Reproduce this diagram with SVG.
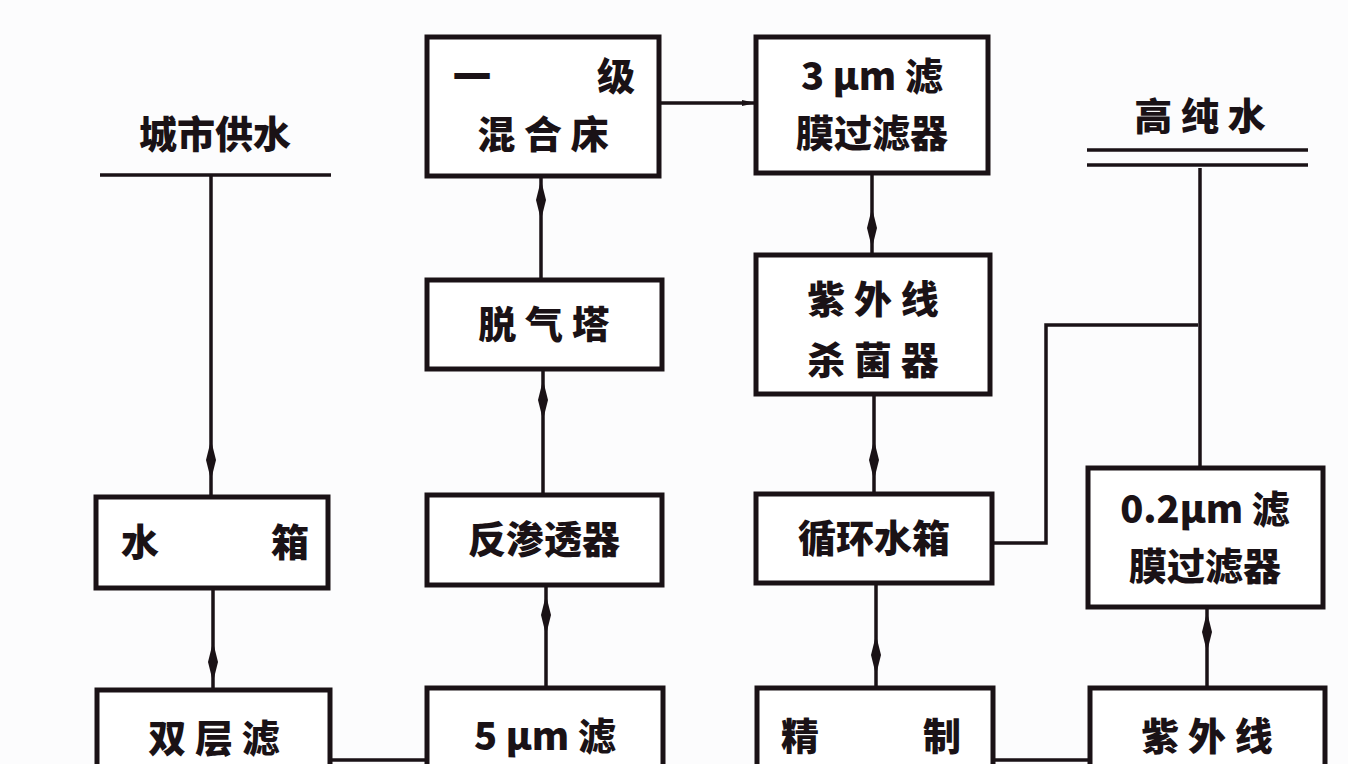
<svg xmlns="http://www.w3.org/2000/svg" width="1348" height="764" viewBox="0 0 1348 764">
<style>
.b{fill:#fff;stroke:#1a1216;stroke-width:5}
.l{fill:none;stroke:#1a1216;stroke-width:3.5}
.t{font-family:"Noto Sans CJK SC","Liberation Sans",sans-serif;font-weight:900;font-size:38px;fill:#1a1216;text-anchor:middle}
</style>
<defs>
<marker id="sp" viewBox="0 0 40 12" refX="20" refY="6" markerWidth="40" markerHeight="12" markerUnits="userSpaceOnUse" orient="auto">
<path d="M0 6 L20 1 L40 6 L20 11 Z" fill="#1a1216"/>
</marker>
<marker id="ah" viewBox="0 0 14 10" refX="14" refY="5" markerWidth="14" markerHeight="10" markerUnits="userSpaceOnUse" orient="auto">
<path d="M0 2 L14 5 L0 8 Z" fill="#1a1216"/>
</marker>
</defs>
<rect width="1348" height="764" fill="#fcfcfd"/>
<g id="connectors">
<line class="l" x1="100" y1="175" x2="331" y2="175" stroke-width="5"/>
<path class="l" d="M211 175 V460 V497" marker-mid="url(#sp)"/>
<path class="l" d="M213 588 V662 V690" marker-mid="url(#sp)"/>
<path class="l" d="M330 760 H427" stroke-width="6"/>
<path class="l" d="M546 688 V615 V586" marker-mid="url(#sp)"/>
<path class="l" d="M543 495 V400 V370" marker-mid="url(#sp)"/>
<path class="l" d="M541 280 V200 V176" marker-mid="url(#sp)"/>
<path class="l" d="M659 103 H756" marker-end="url(#ah)"/>
<path class="l" d="M872 173 V228 V255" marker-mid="url(#sp)"/>
<path class="l" d="M874 394 V460 V494" marker-mid="url(#sp)"/>
<path class="l" d="M876 583 V655 V688" marker-mid="url(#sp)"/>
<path class="l" d="M992 543 H1046 V325 H1198"/>
<path class="l" d="M993 760 H1090" stroke-width="6"/>
<path class="l" d="M1207 688 V632 V607" marker-mid="url(#sp)"/>
<path class="l" d="M1200 468 V168"/>
<line class="l" x1="1087" y1="150" x2="1308" y2="150" stroke-width="4"/>
<line class="l" x1="1087" y1="165" x2="1308" y2="165" stroke-width="4"/>
</g>
<g id="n-city"><text class="t" x="215" y="148">城市供水</text></g>
<g id="n-pure"><text class="t" x="1200" y="130">高 纯 水</text></g>
<g id="n-tank"><rect class="b" x="96" y="497" width="232" height="91"/><text class="t" x="140" y="556">水</text><text class="t" x="290" y="556">箱</text></g>
<g id="n-double"><rect class="b" x="97" y="690" width="233" height="90"/><text class="t" x="214" y="752">双 层 滤</text></g>
<g id="n-5um"><rect class="b" x="427" y="688" width="236" height="92"/><text class="t" x="545" y="750">5 μm 滤</text></g>
<g id="n-ro"><rect class="b" x="427" y="495" width="235" height="90"/><text class="t" x="544" y="553">反渗透器</text></g>
<g id="n-degas"><rect class="b" x="427" y="280" width="235" height="89"/><text class="t" x="544" y="338">脱 气 塔</text></g>
<g id="n-mix"><rect class="b" x="427" y="37" width="232" height="139"/><text class="t" x="472" y="90">一</text><text class="t" x="616" y="90">级</text><text class="t" x="543" y="148">混 合 床</text></g>
<g id="n-3um"><rect class="b" x="756" y="37" width="232" height="136"/><text class="t" x="872" y="90">3 μm 滤</text><text class="t" x="872" y="147">膜过滤器</text></g>
<g id="n-uv"><rect class="b" x="756" y="255" width="234" height="139"/><text class="t" x="873" y="313">紫 外 线</text><text class="t" x="873" y="374">杀 菌 器</text></g>
<g id="n-circ"><rect class="b" x="756" y="494" width="236" height="89"/><text class="t" x="874" y="552">循环水箱</text></g>
<g id="n-refine"><rect class="b" x="757" y="688" width="236" height="92"/><text class="t" x="800" y="750">精</text><text class="t" x="942" y="750">制</text></g>
<g id="n-uv2"><rect class="b" x="1090" y="688" width="235" height="92"/><text class="t" x="1207" y="750">紫 外 线</text></g>
<g id="n-02um"><rect class="b" x="1088" y="468" width="235" height="139"/><text class="t" x="1205" y="523">0.2μm 滤</text><text class="t" x="1205" y="580">膜过滤器</text></g>
</svg>
